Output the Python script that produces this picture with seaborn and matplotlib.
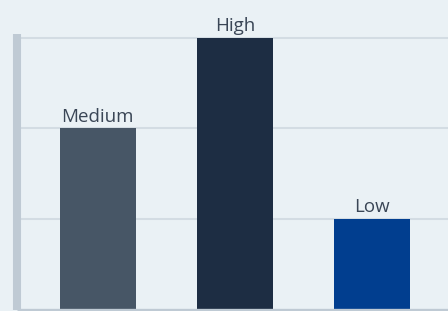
import matplotlib
matplotlib.use("Agg")
import matplotlib.pyplot as plt
import seaborn as sns
import pandas as pd

categories = ["Medium", "High", "Low"]
values = [2, 3, 1]
colors = ["#475666", "#1d2d43", "#013e8f"]

bg = "#eaf1f5"

sns.set_theme(style="white")
plt.rcParams['font.family'] = ['Open Sans', 'DejaVu Sans']

df = pd.DataFrame({"level": categories, "value": values})

fig = plt.figure(figsize=(4.48, 3.11), dpi=100)
fig.patch.set_facecolor(bg)
# axes box in pixels: left 17, bottom 1.5, top at 34
ax = fig.add_axes([17 / 448, 1.5 / 311, 1 - 17 / 448, (309.5 - 34) / 311])
ax.set_facecolor(bg)

sns.barplot(data=df, x="level", y="value", hue="level", palette=colors,
            width=0.555, dodge=False, legend=False, saturation=1,
            linewidth=0, ax=ax)

for i, v in enumerate(values):
    ax.annotate(categories[i], (i, v), xytext=(0, 5), textcoords="offset points",
                ha="center", va="baseline", fontsize=13.5, color="#3a4656",
                annotation_clip=False)

ax.set_xlim(-0.59, 2.555)
ax.set_ylim(0, 3.044)
ax.set_yticks([1, 2, 3])
ax.yaxis.grid(True, color="#d3dce3", linewidth=1.5)
ax.xaxis.grid(False)
ax.set_axisbelow(True)
ax.tick_params(left=False, bottom=False, labelleft=False, labelbottom=False)
ax.set_xlabel("")
ax.set_ylabel("")

for s in ["top", "right"]:
    ax.spines[s].set_visible(False)
for s, lw in [("left", 5.8), ("bottom", 2.4)]:
    ax.spines[s].set_color("#bfcad4")
    ax.spines[s].set_linewidth(lw)
    ax.spines[s].set_capstyle("butt")
    ax.spines[s].set_zorder(3)

fig.savefig("out.png", dpi=100, facecolor=bg)
